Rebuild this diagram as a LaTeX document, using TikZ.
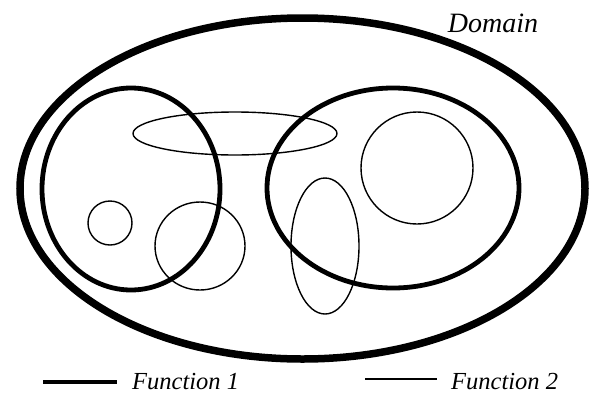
\documentclass[tikz,border=0pt]{standalone}
\usepackage{fontspec}
\setmainfont{Liberation Serif}
\usepackage{tikz}

\begin{document}
\begin{tikzpicture}[x=1pt,y=-1pt,
    domainline/.style={line width=7.5pt},
    funcone/.style={line width=4.8pt},
    functwo/.style={line width=1.4pt},
    lbl/.style={font=\fontsize{24.5}{28}\selectfont\itshape,inner sep=0pt}]
  \useasboundingbox (0,0) rectangle (589,397);
  % domain
  \draw[domainline] (302.5,188.5) ellipse (282.5 and 170.5);
  \node[lbl,font=\fontsize{28}{32}\selectfont\itshape] (dom) at (493,23) {Domain};
  % function 1
  \draw[funcone] (131,189) ellipse (89 and 101);
  \draw[funcone] (393,188) ellipse (126 and 100);
  % function 2
  \draw[functwo] (235,133.5) ellipse (102 and 21.5);
  \draw[functwo] (110,223) circle (22);
  \draw[functwo] (200,246) ellipse (45 and 44);
  \draw[functwo] (417,168) circle (56);
  \draw[functwo] (325,246) ellipse (34 and 68);
  % legend
  \coordinate (f1a) at (43,382);
  \coordinate (f1b) at (117,382);
  \draw[funcone] (f1a) -- (f1b);
  \node[lbl,anchor=west] (f1) at (132,382) {Function 1};
  \coordinate (f2a) at (365,379);
  \coordinate (f2b) at (437,379);
  \draw[functwo] (f2a) -- (f2b);
  \node[lbl,anchor=west] (f2) at (451,382) {Function 2};
\end{tikzpicture}
\end{document}
